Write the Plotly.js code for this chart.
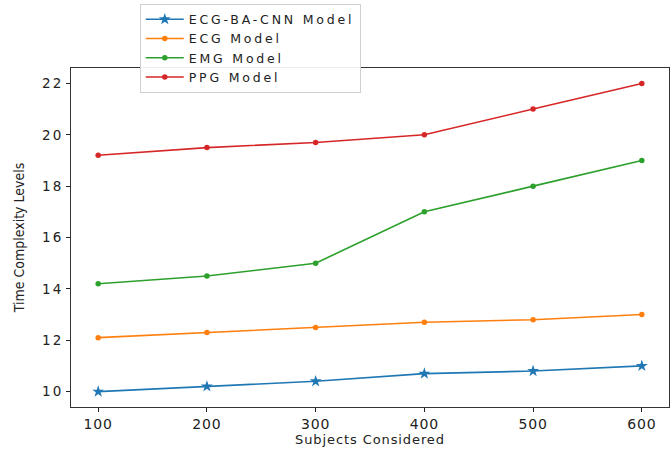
<!DOCTYPE html>
<html>
<head>
<meta charset="utf-8">
<script src="https://cdn.plot.ly/plotly-3.0.1.min.js"></script>
<style>
  html, body { margin: 0; padding: 0; background: #fff; }
  #chart { width: 672px; height: 449px; }
  /* wider lettering for the legend and tick labels */
  .legendtext { letter-spacing: 2.8px; }
  .ytick text { letter-spacing: 2px; }
  .xtick text { letter-spacing: 0.8px; }
  .g-xtitle text { letter-spacing: 0.9px; }
</style>
</head>
<body>
<div id="chart"></div>
<script>
// Subjects considered on the x axis
const subjects = [100, 200, 300, 400, 500, 600];

// Time complexity levels per model
const ecgBaCnn = [10.0, 10.2, 10.4, 10.7, 10.8, 11.0];
const ecg      = [12.1, 12.3, 12.5, 12.7, 12.8, 13.0];
const emg      = [14.2, 14.5, 15.0, 17.0, 18.0, 19.0];
const ppg      = [19.2, 19.5, 19.7, 20.0, 21.0, 22.0];

const seriesNames = ['ECG-BA-CNN Model', 'ECG Model', 'EMG Model', 'PPG Model'];
const xTicks = [100, 200, 300, 400, 500, 600];
const yTicks = [10, 12, 14, 16, 18, 20, 22];

const colors = ['#1f77b4', '#ff7f0e', '#2ca02c', '#d62728'];
const symbols = ['star', 'circle', 'circle', 'circle'];
const sizes = [9, 5.5, 5.5, 5.5];
const values = [ecgBaCnn, ecg, emg, ppg];

const traces = values.map((v, i) => ({
  x: subjects,
  y: v,
  name: seriesNames[i],
  type: 'scatter',
  mode: 'lines+markers',
  line: { color: colors[i], width: 1.6 },
  marker: { color: colors[i], symbol: symbols[i], size: sizes[i] }
}));

const fontFam = 'DejaVu Sans, sans-serif';

const layout = {
  width: 672,
  height: 449,
  margin: { l: 71, r: 3, t: 68, b: 42 },
  paper_bgcolor: '#ffffff',
  plot_bgcolor: '#ffffff',
  showlegend: true,
  legend: {
    x: 0.115, y: 1.19, xanchor: 'left', yanchor: 'top',
    bgcolor: 'rgba(255,255,255,0.9)',
    bordercolor: '#d0d0d0', borderwidth: 1,
    font: { family: fontFam, size: 12.5, color: '#222' },
    tracegroupgap: 0,
    itemwidth: 38
  },
  xaxis: {
    range: [75, 625],
    tickvals: xTicks,
    ticks: 'outside', ticklen: 4, tickcolor: '#222',
    showgrid: false, zeroline: false,
    showline: true, mirror: true, linecolor: '#333', linewidth: 1,
    tickfont: { family: fontFam, size: 14, color: '#222' },
    title: { text: 'Subjects Considered', font: { family: fontFam, size: 13, color: '#222' }, standoff: 3 }
  },
  yaxis: {
    range: [9.4, 22.6],
    tickvals: yTicks,
    ticks: 'outside', ticklen: 4, tickcolor: '#222',
    showgrid: false, zeroline: false,
    showline: true, mirror: true, linecolor: '#333', linewidth: 1,
    tickfont: { family: fontFam, size: 13.5, color: '#222' },
    title: { text: 'Time Complexity Levels', font: { family: 'Liberation Sans Narrow, DejaVu Sans Condensed, sans-serif', size: 14, color: '#222' }, standoff: 14 }
  }
};

Plotly.newPlot('chart', traces, layout, { displayModeBar: false, staticPlot: true });
</script>
</body>
</html>
